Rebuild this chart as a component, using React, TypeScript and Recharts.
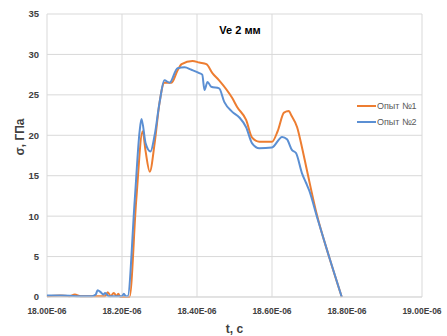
import React from "react";
import { LineChart, Line, XAxis, YAxis, CartesianGrid, Customized } from "recharts";

const timesA = [18.0, 18.035, 18.06, 18.074, 18.09, 18.13, 18.155, 18.162, 18.17, 18.178, 18.186, 18.19, 18.196, 18.21, 18.22, 18.238, 18.255, 18.263, 18.274, 18.287, 18.3, 18.313, 18.332, 18.348, 18.359, 18.388, 18.406, 18.425, 18.441, 18.459, 18.494, 18.507, 18.531, 18.547, 18.566, 18.6, 18.615, 18.632, 18.645, 18.651, 18.667, 18.68, 18.693, 18.72, 18.752, 18.786];
const valuesA = [0.1, 0.2, 0.1, 0.3, 0.1, 0.1, 0.1, 0.6, 0.1, 0.5, 0.1, 0.4, 0.0, 0.0, 0.0, 12, 20.5, 18, 15.5, 19, 24, 26.5, 26.5, 28, 28.8, 29.2, 29.0, 28.8, 27.7, 26.8, 24.6, 23.5, 21.9, 19.7, 19.2, 19.2, 20.5, 22.8, 23.0, 22.5, 21.0, 18.5, 15.7, 10.1, 5, 0];

const timesB = [18.0, 18.04, 18.08, 18.12, 18.13, 18.135, 18.143, 18.15, 18.155, 18.165, 18.2, 18.205, 18.21, 18.215, 18.234, 18.247, 18.252, 18.263, 18.276, 18.287, 18.3, 18.313, 18.327, 18.348, 18.367, 18.385, 18.406, 18.414, 18.42, 18.428, 18.438, 18.459, 18.473, 18.494, 18.513, 18.531, 18.547, 18.566, 18.6, 18.627, 18.64, 18.653, 18.664, 18.68, 18.691, 18.699, 18.72, 18.752, 18.786];
const valuesB = [0.2, 0.2, 0.1, 0.1, 0.3, 0.85, 0.6, 0.3, 0.5, 0.1, 0.1, 0.4, 0.1, 0.1, 12, 20.5, 22.0, 19, 18.0, 20, 24, 26.8, 26.5, 28.3, 28.4, 28.1, 27.7, 27.5, 25.6, 26.6, 26.0, 25.8, 24.1, 22.9, 22.2, 21.0, 19.0, 18.4, 18.5, 19.8, 19.5, 18.2, 17.8, 15.3, 14.1, 13.2, 9.9, 5, 0];

const xTicks = [18.0, 18.2, 18.4, 18.6, 18.8, 19.0];
const yTicks = [0, 5, 10, 15, 20, 25, 30, 35];
const seriesNames = ["Опыт №1", "Опыт №2"];
const title = "Ve 2 мм";
const xLabel = "t, c";
const yLabel = "σ, ГПа";

const dataA = timesA.map((t, i) => ({ t, v: valuesA[i] }));
const dataB = timesB.map((t, i) => ({ t, v: valuesB[i] }));

const ORANGE = "#ED7D31";
const BLUE = "#5B8FD3";
const FONT = "'Liberation Sans', Arial, sans-serif";

const LegendSvg = () => (
  <g fontFamily={FONT} fontSize={9} fill="#595959">
    {seriesNames.map((n, i) => (
      <g key={n}>
        <line x1={357} y1={106 + i * 16} x2={376} y2={106 + i * 16} stroke={i === 0 ? ORANGE : BLUE} strokeWidth={2} />
        <text x={377} y={109 + i * 16}>{n}</text>
      </g>
    ))}
  </g>
);

const Title = () => (
  <text x={240} y={34} textAnchor="middle" fontFamily={FONT} fontSize={11} fontWeight="bold" fill="#000">
    {title}
  </text>
);

export default function App() {
  return (
    <div style={{ position: "absolute", left: 0, top: 0, background: "#fff" }}>
      <LineChart width={447} height={336} margin={{ top: 14, right: 25, bottom: 19, left: 0 }}>
        <CartesianGrid stroke="#d9d9d9" strokeWidth={1} />
        <XAxis
          type="number"
          dataKey="t"
          domain={[18, 19]}
          ticks={xTicks}
          tickFormatter={(v: number) => v.toFixed(2) + "E-06"}
          axisLine={{ stroke: "#d9d9d9" }}
          tickLine={false}
          tick={{ fontSize: 8.5, fontWeight: "bold", fill: "#404040", fontFamily: FONT, dy: 3 }}
          height={20}
          allowDuplicatedCategory={false}
          label={{ value: xLabel, position: "insideBottom", offset: -16, fontSize: 12, fontWeight: "bold", fill: "#404040", fontFamily: FONT }}
        />
        <YAxis
          type="number"
          domain={[0, 35]}
          ticks={yTicks}
          width={47}
          axisLine={false}
          tickLine={false}
          tick={{ fontSize: 9.5, fontWeight: "bold", fill: "#404040", fontFamily: FONT }}
          label={{ value: yLabel, angle: -90, position: "insideLeft", offset: 20, fontSize: 12, fontWeight: "bold", fill: "#404040", fontFamily: FONT }}
        />
        <Line data={dataA} dataKey="v" name={seriesNames[0]} stroke={ORANGE} strokeWidth={2} dot={false} type="monotone" isAnimationActive={false} />
        <Line data={dataB} dataKey="v" name={seriesNames[1]} stroke={BLUE} strokeWidth={2} dot={false} type="monotone" isAnimationActive={false} />
        <Customized component={LegendSvg} />
        <Customized component={Title} />
      </LineChart>
    </div>
  );
}
